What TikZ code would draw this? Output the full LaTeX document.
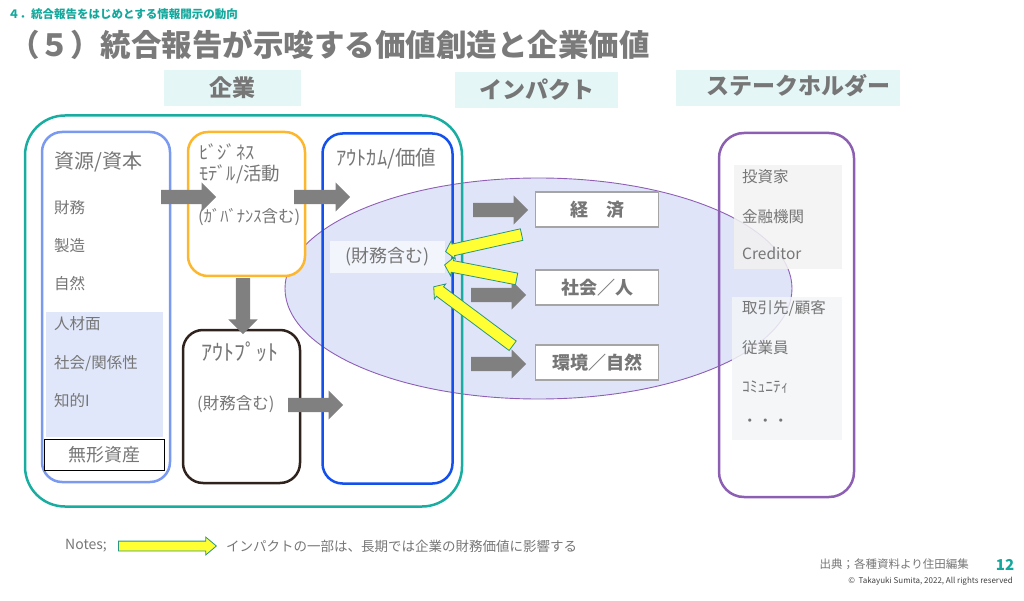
\documentclass[tikz,border=0pt]{standalone}
\usepackage{fontspec}
\setmainfont{Noto Sans CJK JP}
\usetikzlibrary{shapes.geometric,shapes.arrows,calc}

\definecolor{txtgray}{RGB}{118,118,118}
\definecolor{titlegray}{RGB}{122,122,122}
\definecolor{tealtxt}{RGB}{20,168,156}
\definecolor{hdrfill}{RGB}{228,246,246}
\definecolor{tealline}{RGB}{24,173,160}
\definecolor{resline}{RGB}{122,153,240}
\definecolor{lav}{RGB}{224,231,250}
\definecolor{bizline}{RGB}{253,183,46}
\definecolor{outline}{RGB}{48,35,29}
\definecolor{ocline}{RGB}{20,80,235}
\definecolor{ellfill}{RGB}{223,228,248}
\definecolor{ellline}{RGB}{143,95,182}
\definecolor{stkline}{RGB}{140,95,178}
\definecolor{finbg}{RGB}{243,245,253}
\definecolor{impline}{RGB}{165,165,165}
\definecolor{arrgray}{RGB}{128,128,128}
\definecolor{yfill}{RGB}{255,255,51}
\definecolor{yline}{RGB}{40,150,130}
\definecolor{grayA}{RGB}{242,242,242}
\definecolor{grayB}{RGB}{242,245,247}

\newcommand{\fsz}[1]{\fontsize{#1}{#1}\selectfont}
\newcommand{\blockarr}[3]{%
  \path let \p1=(#2), \p2=(#3), \n1={atan2(\y2-\y1,\x2-\x1)}, \n2={veclen(\x2-\x1,\y2-\y1)} in
    node[#1, minimum height=\n2, rotate=\n1, anchor=tail] at (\p1) {};%
}

\tikzset{
  box/.style={draw, rounded corners=20pt, line width=2.5pt, inner sep=0pt},
  hdr/.style={fill=hdrfill, inner sep=0pt, minimum height=36pt, text=txtgray, font=\bfseries\fsz{23}},
  lbl/.style={anchor=west, inner sep=0pt, text=txtgray},
  impbox/.style={draw=impline, line width=1.2pt, fill=white, minimum width=123pt, minimum height=35pt,
    inner sep=0pt, text=txtgray, font=\bfseries\fsz{18}},
  garrow/.style={single arrow, fill=arrgray, inner sep=7pt, minimum width=0pt,
    single arrow head extend=7.5pt, single arrow tip angle=90},
  yarrow/.style={single arrow, fill=yfill, draw=yline, line width=0.8pt, inner sep=5.5pt, minimum width=0pt,
    single arrow head extend=3.5pt, single arrow tip angle=100},
  narrow/.style={single arrow, fill=yfill, draw=yline, line width=0.8pt, inner sep=4.5pt, minimum width=0pt,
    single arrow head extend=4pt, single arrow tip angle=80}
}

\begin{document}
\begin{tikzpicture}[x=1pt,y=-1pt]
    \useasboundingbox (0,0) rectangle (1024,601);

    \node[lbl, text=tealtxt, font=\bfseries\fsz{11.5}] (sub) at (8,14) {４．統合報告をはじめとする情報開示の動向};
    \node[lbl, text=titlegray, font=\bfseries\fsz{30.5}] (title) at (9,45) {（５）統合報告が示唆する価値創造と企業価値};

    \node[hdr, minimum width=137pt] (hkigyo) at (232.5,88) {企業};
    \node[hdr, minimum width=163pt] (himpact) at (536.5,90) {インパクト};
    \node[hdr, minimum width=224pt] (hstake) at (788,88) {};
    \node[text=txtgray, inner sep=0pt, font=\bfseries\fsz{23}] (hstaketxt) at (798,86) {ステークホルダー};

    \node[ellipse, draw=ellline, line width=0.9pt, fill=ellfill, minimum width=507pt, minimum height=221pt, inner sep=0pt] (imp) at (538.5,288.5) {};

    \node[box, draw=tealline, rounded corners=40pt, minimum width=437pt, minimum height=391pt] (kigyo) at (243.5,311) {};
    \node[box, draw=resline, fill=white, minimum width=128pt, minimum height=350pt] (res) at (106,307) {};
    \node[fill=lav, inner sep=0pt, minimum width=117pt, minimum height=125pt] (intang) at (104.5,374.5) {};
    \node[draw=black, line width=0.8pt, fill=white, inner sep=0pt, minimum width=120pt, minimum height=31pt,
        text=txtgray, font=\fsz{18}] (mukei) at (104,454.5) {無形資産};
    \node[box, draw=bizline, fill=white, minimum width=117pt, minimum height=144pt] (biz) at (246.5,204) {};
    \node[box, draw=outline, fill=white, minimum width=117pt, minimum height=153pt] (outp) at (241.5,406.5) {};
    \node[box, draw=ocline, minimum width=130pt, minimum height=350pt] (outc) at (387.5,308.5) {};

    \node[lbl, font=\fsz{20}] (restitle) at (54,162) {資源/資本};
    \foreach \y/\t [count=\i] in {208/財務, 246/製造, 284/自然, 324/人材面, 363/{社会/関係性}, 401/知的I} {
        \node[lbl, font=\fsz{15.5}] (r\i) at (54,\y) {\t};
    }

    \node[lbl, font=\fsz{18.5}] (biz1) at (199,152) {ﾋﾞｼﾞﾈｽ};
    \node[lbl, font=\fsz{18.5}] (biz2) at (199,174) {ﾓﾃﾞﾙ/活動};
    \node[lbl, font=\fsz{16.5}] (biz3) at (198,217) {(ｶﾞﾊﾞﾅﾝｽ含む)};

    \node[lbl, font=\fsz{22}] (outptitle) at (201,352) {ｱｳﾄﾌﾟｯﾄ};
    \node[lbl, font=\fsz{16.5}] (outpfin) at (197,404) {(財務含む)};

    \node[lbl, font=\fsz{20.5}] (outctitle) at (336,159) {ｱｳﾄｶﾑ/価値};
    \node[fill=finbg, inner sep=0pt, minimum width=115pt, minimum height=32pt, text=txtgray, font=\fsz{18}] (fin) at (387.5,257) {(財務含む)};

    \foreach \n/\y/\t in {eco/209.5/経　済, soc/287.5/社会／人, env/362.5/環境／自然} {
        \node[impbox] (\n) at (597,\y) {\t};
    }

    \node[box, draw=stkline, rounded corners=25pt, minimum width=135pt, minimum height=364pt] (stk) at (786.5,315) {};
    \node[fill=grayA, fill opacity=0.85, inner sep=0pt, minimum width=108pt, minimum height=104pt] (fin2) at (788,217) {};
    \node[fill=grayB, fill opacity=0.85, inner sep=0pt, minimum width=110pt, minimum height=143pt] (trade) at (787,368.5) {};
    \foreach \y/\t [count=\i] in {177/投資家, 217/金融機関, 253/Creditor, 308/{取引先/顧客}, 348/従業員, 387/ｺﾐｭﾆﾃｨ, 423/・・・} {
        \node[lbl, font=\fsz{15.5}] (s\i) at (742,\y) {\t};
    }

    \coordinate (ga1) at (161,197);  \coordinate (ga2) at (216,197);
    \coordinate (gb1) at (294,197);  \coordinate (gb2) at (350,197);
    \coordinate (gc1) at (243,278);  \coordinate (gc2) at (243,334);
    \coordinate (gd1) at (288,405);  \coordinate (gd2) at (343,405);
    \coordinate (ge1) at (473,210);  \coordinate (ge2) at (528,210);
    \coordinate (gf1) at (471,295);  \coordinate (gf2) at (526,295);
    \coordinate (gg1) at (471,364);  \coordinate (gg2) at (526,364);
    \foreach \a in {a,b,c,d,e,f,g} {
        \blockarr{garrow}{g\a1}{g\a2}
    }

    \coordinate (ya1) at (522,234.5); \coordinate (ya2) at (446,251.5);
    \coordinate (yb1) at (517,279);   \coordinate (yb2) at (445,265);
    \coordinate (yc1) at (513,346);   \coordinate (yc2) at (434,287);
    \foreach \a in {a,b,c} {
        \blockarr{yarrow}{y\a1}{y\a2}
    }

    \node[lbl, font=\fsz{14}] (notes) at (65,546) {Notes;};
    \coordinate (na1) at (118,546); \coordinate (na2) at (216,546);
    \blockarr{narrow}{na1}{na2}
    \node[lbl, font=\fsz{13.5}] (notetxt) at (226,546) {インパクトの一部は、長期では企業の財務価値に影響する};

    \node[anchor=east, inner sep=0pt, text=txtgray, font=\fsz{11.5}] (src) at (969,564) {出典；各種資料より住田編集};
    \node[inner sep=0pt, text=tealtxt, font=\bfseries\fsz{15}] (pg) at (1005,565) {12};
    \node[anchor=east, inner sep=0pt, text=black!75, font=\fsz{8}] (copy) at (1013,581) {©\ \ Takayuki Sumita, 2022, All rights reserved};
\end{tikzpicture}
\end{document}
